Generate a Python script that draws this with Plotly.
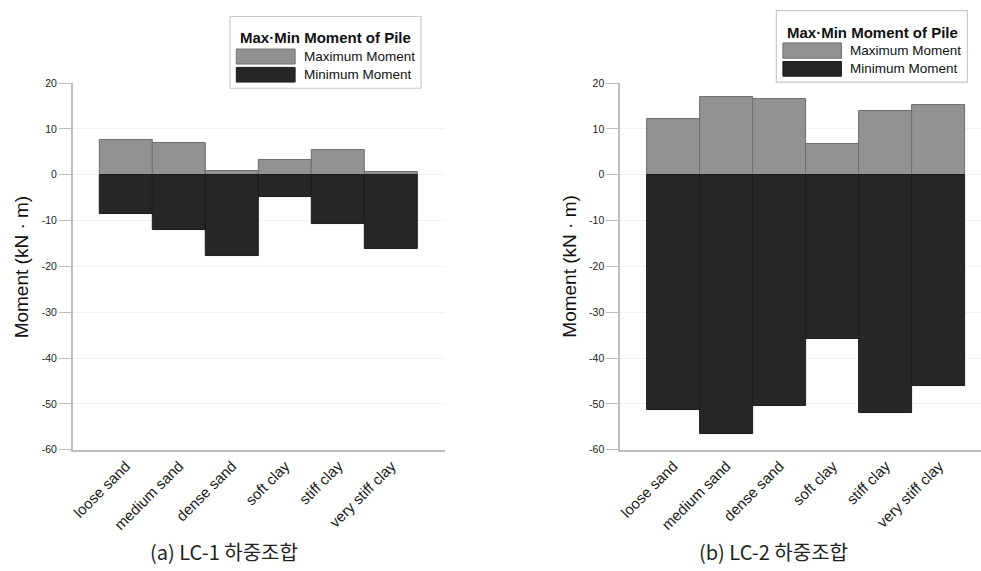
import plotly.graph_objects as go

categories = ["loose sand", "medium sand", "dense sand", "soft clay", "stiff clay", "very stiff clay"]
lc1_max = [7.5, 7.0, 0.8, 3.3, 5.3, 0.6]
lc1_min = [-8.5, -12.1, -17.8, -4.9, -10.7, -16.2]
lc2_max = [12.1, 17.0, 16.6, 6.6, 14.0, 15.1]
lc2_min = [-51.3, -56.6, -50.5, -35.9, -51.9, -46.2]
y_tickvals = [20, 10, 0, -10, -20, -30, -40, -50, -60]
y_ticktext = ["20", "10", "0", "-10", "-20", "-30", "-40", "-50", "-60"]
legend_title = "Max·Min Moment of Pile"
series_names = ["Maximum Moment", "Minimum Moment"]
captions = ["(a) LC-1 하중조합", "(b) LC-2 하중조합"]
y_title = "Moment (kN · m)"

W, H = 981, 571
MAX_COLOR = "#929292"
MIN_COLOR = "#262626"
MAX_LINE = "#6e6e6e"
MIN_LINE = "#1c1c1c"
FONT = "Liberation Sans, Arial, sans-serif"


def X(px):
    return px / W


def Y(py):
    return 1 - py / H


fig = go.Figure()

for (mx, mn, xa, ya) in [(lc1_max, lc1_min, "x", "y"), (lc2_max, lc2_min, "x2", "y2")]:
    fig.add_trace(go.Bar(x=categories, y=mx, xaxis=xa, yaxis=ya, name=series_names[0],
                         marker=dict(color=MAX_COLOR, line=dict(color=MAX_LINE, width=1)),
                         showlegend=False, width=1))
    fig.add_trace(go.Bar(x=categories, y=mn, xaxis=xa, yaxis=ya, name=series_names[1],
                         marker=dict(color=MIN_COLOR, line=dict(color=MIN_LINE, width=1)),
                         showlegend=False, width=1))

plot_top, plot_bot = 78.7, 453.3
ydom = [Y(plot_bot), Y(plot_top)]

common_x = dict(type="category", categoryorder="array", categoryarray=categories,
                tickangle=-45, showline=True, linecolor="#bdbdbd", linewidth=1.5,
                showgrid=False, ticks="", tickfont=dict(family=FONT, size=15, color="#1a1a1a"),
                zeroline=False, fixedrange=True)
common_y = dict(range=[-60, 20], tickvals=y_tickvals, ticktext=y_ticktext,
                showline=True, linecolor="#bdbdbd", linewidth=1.5,
                ticks="outside", ticklen=12, tickcolor="#bdbdbd", tickwidth=1.2,
                showgrid=True, gridcolor="#f1f1f1", gridwidth=1, zeroline=False,
                tickfont=dict(family=FONT, size=10.5, color="#222"), domain=ydom)

fig.update_layout(
    width=W, height=H, margin=dict(l=0, r=0, t=0, b=0),
    paper_bgcolor="white", plot_bgcolor="white",
    barmode="overlay", bargap=0,
    xaxis=dict(common_x, domain=[X(70), X(443)], range=[-1, 6], anchor="y"),
    yaxis=dict(common_y, anchor="x"),
    xaxis2=dict(common_x, domain=[X(619), 1.0], range=[-1, 5.79], anchor="y2"),
    yaxis2=dict(common_y, anchor="x2"),
)

shapes = []
annotations = []

# y-axis titles
for xc in [18, 568]:
    annotations.append(dict(x=X(xc), y=Y((plot_top + plot_bot) / 2), xref="paper", yref="paper",
                            text=y_title, textangle=-90, showarrow=False,
                            font=dict(family=FONT, size=19, color="#111"),
                            xanchor="center", yanchor="middle"))

# captions
for xc, cap in zip([221.7, 772.5], captions):
    annotations.append(dict(x=X(xc), y=Y(557), xref="paper", yref="paper", text=cap,
                            showarrow=False, font=dict(family="Noto Sans CJK KR", size=20, color="#222"),
                            xanchor="center", yanchor="middle"))

# manual legends
legends = [
    dict(box=(227.7, 10.7, 419.3, 84), title=(323.7, 32), sw_x=(234, 293),
         sw_y=[(44, 59.3), (62.7, 77.7)], tx=300),
    dict(box=(775.7, 4.7, 967.3, 77.7), title=(871.7, 26.7), sw_x=(782.3, 841),
         sw_y=[(37.7, 53.3), (56.7, 71.7)], tx=847.7),
]
for lg in legends:
    x0, y0, x1, y1 = lg["box"]
    shapes.append(dict(type="rect", xref="paper", yref="paper", x0=X(x0), x1=X(x1), y0=Y(y1), y1=Y(y0),
                       line=dict(color="#c8c8c8", width=1.2), fillcolor="white", layer="above"))
    annotations.append(dict(x=X(lg["title"][0]), y=Y(lg["title"][1]), xref="paper", yref="paper",
                            text="<b>" + legend_title + "</b>", showarrow=False,
                            font=dict(family=FONT, size=15, color="#111"),
                            xanchor="center", yanchor="middle"))
    for (sy0, sy1), col, lcol, name in zip(lg["sw_y"], [MAX_COLOR, MIN_COLOR], [MAX_LINE, MIN_LINE], series_names):
        shapes.append(dict(type="rect", xref="paper", yref="paper", x0=X(lg["sw_x"][0]), x1=X(lg["sw_x"][1]),
                           y0=Y(sy1), y1=Y(sy0), fillcolor=col, line=dict(color=lcol, width=1), layer="above"))
        annotations.append(dict(x=X(lg["tx"]), y=Y((sy0 + sy1) / 2), xref="paper", yref="paper",
                                text=name, showarrow=False, font=dict(family=FONT, size=13.5, color="#111"),
                                xanchor="left", yanchor="middle"))

fig.update_layout(shapes=shapes, annotations=annotations)
fig.write_html("out.html")
